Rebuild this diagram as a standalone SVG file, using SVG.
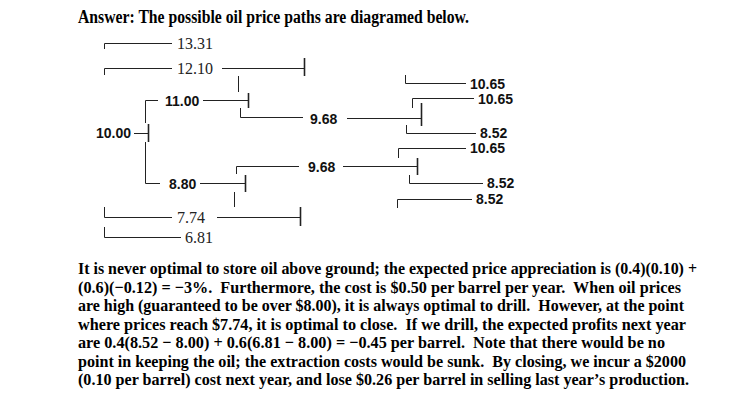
<svg xmlns="http://www.w3.org/2000/svg" width="751" height="412" viewBox="0 0 751 412">
<style>
.bg{fill:#fff}
.ln{fill:none;stroke:#222;stroke-width:1}
.tk{fill:none;stroke:#222;stroke-width:1.6}
.ser{font-family:"Liberation Serif","Times New Roman",serif;font-size:16px;fill:#222}
.san{font-family:"Liberation Sans",Arial,sans-serif;font-weight:bold;font-size:14px;fill:#111}
.ttl{font-family:"Liberation Serif","Times New Roman",serif;font-weight:bold;font-size:18px;fill:#000}
.par{font-family:"Liberation Serif","Times New Roman",serif;font-weight:bold;font-size:17px;fill:#000;white-space:pre}
</style>
<rect class="bg" x="0" y="0" width="751" height="412"/>
<text class="ttl" x="78" y="23" textLength="391" lengthAdjust="spacingAndGlyphs">Answer: The possible oil price paths are diagramed below.</text>
<g id="connectors">
<path class="ln" d="M134 133.5H148M145.5 123V100.5H158M145.5 142V183.5H160"/>
<path class="tk" d="M148.5 124V142"/>
<path class="ln" d="M203 100.5H248M238.5 76V92M240.5 108V117.5H303"/>
<path class="tk" d="M248.5 93V108"/>
<path class="ln" d="M104.5 75V68.5H172M222 68.5H304"/>
<path class="tk" d="M304.5 58V76"/>
<path class="ln" d="M104.5 49V43.5H172"/>
<path class="ln" d="M347 118.5H421M412.5 108V98.5H474M406.5 125V133.5H476M405.5 75V83.5H466"/>
<path class="tk" d="M421.5 103V126"/>
<path class="ln" d="M200 183.5H245M236.5 174V166.5H299M234.5 192V207"/>
<path class="tk" d="M245.5 175V192"/>
<path class="ln" d="M343 166.5H417M398.5 158V148.5H466M409.5 175V183.5H483"/>
<path class="tk" d="M417.5 158V175"/>
<path class="ln" d="M104.5 207V217.5H172M217 217.5H300M397.5 208V199.5H472"/>
<path class="tk" d="M300.5 207V226"/>
<path class="ln" d="M104.5 227V237.5H181"/>
</g>
<g id="n1331"><text class="ser" x="177" y="48.5">13.31</text></g>
<g id="n1210"><text class="ser" x="177" y="73.5">12.10</text></g>
<g id="n774"><text class="ser" x="177" y="222.5">7.74</text></g>
<g id="n681"><text class="ser" x="185" y="242.5">6.81</text></g>
<g id="n1000"><text class="san" x="96" y="138">10.00</text></g>
<g id="n1100"><text class="san" x="165" y="105.5">11.00</text></g>
<g id="n880"><text class="san" x="169" y="188.5">8.80</text></g>
<g id="n968a"><text class="san" x="310" y="123.5">9.68</text></g>
<g id="n968b"><text class="san" x="308" y="171.5">9.68</text></g>
<g id="n1065a"><text class="san" x="470" y="88.5">10.65</text></g>
<g id="n1065b"><text class="san" x="478" y="103.5">10.65</text></g>
<g id="n852a"><text class="san" x="480" y="138">8.52</text></g>
<g id="n1065c"><text class="san" x="470" y="153">10.65</text></g>
<g id="n852b"><text class="san" x="487" y="188">8.52</text></g>
<g id="n852c"><text class="san" x="476" y="204">8.52</text></g>
<g id="paragraph">
<text class="par" x="78" y="274" textLength="619" lengthAdjust="spacingAndGlyphs">It is never optimal to store oil above ground; the expected price appreciation is (0.4)(0.10) +</text>
<text class="par" x="78" y="292.5" textLength="603" lengthAdjust="spacingAndGlyphs">(0.6)(−0.12) = −3%.  Furthermore, the cost is $0.50 per barrel per year.  When oil prices</text>
<text class="par" x="78" y="311" textLength="606" lengthAdjust="spacingAndGlyphs">are high (guaranteed to be over $8.00), it is always optimal to drill.  However, at the point</text>
<text class="par" x="78" y="329.5" textLength="608" lengthAdjust="spacingAndGlyphs">where prices reach $7.74, it is optimal to close.  If we drill, the expected profits next year</text>
<text class="par" x="78" y="348" textLength="587" lengthAdjust="spacingAndGlyphs">are 0.4(8.52 − 8.00) + 0.6(6.81 − 8.00) = −0.45 per barrel.  Note that there would be no</text>
<text class="par" x="78" y="366.5" textLength="608" lengthAdjust="spacingAndGlyphs">point in keeping the oil; the extraction costs would be sunk.  By closing, we incur a $2000</text>
<text class="par" x="78" y="385" textLength="611" lengthAdjust="spacingAndGlyphs">(0.10 per barrel) cost next year, and lose $0.26 per barrel in selling last year’s production.</text>
</g>
</svg>
